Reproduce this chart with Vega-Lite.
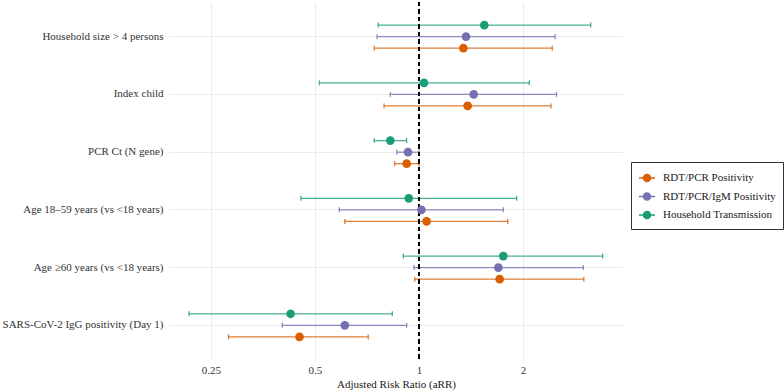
{
  "$schema": "https://vega.github.io/schema/vega-lite/v6.json",
  "width": 454,
  "height": 358,
  "autosize": "none",
  "padding": {"left": 169, "top": 2, "right": 161, "bottom": 31},
  "background": "white",
  "config": {
    "view": {"stroke": null},
    "font": "Liberation Serif",
    "axis": {"labelFont": "Liberation Serif", "titleFont": "Liberation Serif", "domain": false, "ticks": false, "gridColor": "#EBEBEB", "gridWidth": 1, "labelColor": "#333333", "titleColor": "#1a1a1a", "titleFontWeight": "normal"},
    "legend": {"labelFont": "Liberation Serif", "titleFont": "Liberation Serif"}
  },
  "data": {
    "values": [
      {"category": "Household size > 4 persons", "series": "Household Transmission", "est": 1.545, "lo": 0.762, "hi": 3.14},
      {"category": "Household size > 4 persons", "series": "RDT/PCR/IgM Positivity", "est": 1.368, "lo": 0.756, "hi": 2.476},
      {"category": "Household size > 4 persons", "series": "RDT/PCR Positivity", "est": 1.344, "lo": 0.742, "hi": 2.43},
      {"category": "Index child", "series": "Household Transmission", "est": 1.034, "lo": 0.515, "hi": 2.086},
      {"category": "Index child", "series": "RDT/PCR/IgM Positivity", "est": 1.44, "lo": 0.826, "hi": 2.5},
      {"category": "Index child", "series": "RDT/PCR Positivity", "est": 1.383, "lo": 0.792, "hi": 2.41},
      {"category": "PCR Ct (N gene)", "series": "Household Transmission", "est": 0.826, "lo": 0.742, "hi": 0.921},
      {"category": "PCR Ct (N gene)", "series": "RDT/PCR/IgM Positivity", "est": 0.929, "lo": 0.862, "hi": 1.0},
      {"category": "PCR Ct (N gene)", "series": "RDT/PCR Positivity", "est": 0.921, "lo": 0.85, "hi": 1.0},
      {"category": "Age 18–59 years (vs <18 years)", "series": "Household Transmission", "est": 0.934, "lo": 0.455, "hi": 1.917},
      {"category": "Age 18–59 years (vs <18 years)", "series": "RDT/PCR/IgM Positivity", "est": 1.016, "lo": 0.588, "hi": 1.754},
      {"category": "Age 18–59 years (vs <18 years)", "series": "RDT/PCR Positivity", "est": 1.052, "lo": 0.61, "hi": 1.806},
      {"category": "Age ≥60 years (vs <18 years)", "series": "Household Transmission", "est": 1.754, "lo": 0.901, "hi": 3.4},
      {"category": "Age ≥60 years (vs <18 years)", "series": "RDT/PCR/IgM Positivity", "est": 1.697, "lo": 0.967, "hi": 2.99},
      {"category": "Age ≥60 years (vs <18 years)", "series": "RDT/PCR Positivity", "est": 1.712, "lo": 0.972, "hi": 3.0},
      {"category": "SARS-CoV-2 IgG positivity (Day 1)", "series": "Household Transmission", "est": 0.425, "lo": 0.216, "hi": 0.837},
      {"category": "SARS-CoV-2 IgG positivity (Day 1)", "series": "RDT/PCR/IgM Positivity", "est": 0.61, "lo": 0.402, "hi": 0.921},
      {"category": "SARS-CoV-2 IgG positivity (Day 1)", "series": "RDT/PCR Positivity", "est": 0.451, "lo": 0.281, "hi": 0.713}
    ]
  },
  "encoding": {
    "y": {
      "field": "category", "type": "nominal",
      "sort": ["Household size > 4 persons", "Index child", "PCR Ct (N gene)", "Age 18–59 years (vs <18 years)", "Age ≥60 years (vs <18 years)", "SARS-CoV-2 IgG positivity (Day 1)"],
      "scale": {"paddingInner": 0, "paddingOuter": 0.1},
      "axis": {"title": null, "grid": true, "bandPosition": 0.5, "labelFontSize": 11, "labelPadding": 6, "labelLimit": 300}
    },
    "yOffset": {
      "field": "series", "type": "nominal",
      "sort": ["Household Transmission", "RDT/PCR/IgM Positivity", "RDT/PCR Positivity"],
      "scale": {"paddingInner": 0, "paddingOuter": 1.0}
    },
    "color": {
      "field": "series", "type": "nominal",
      "scale": {"domain": ["RDT/PCR Positivity", "RDT/PCR/IgM Positivity", "Household Transmission"], "range": ["#D95F02", "#7570B3", "#1B9E77"]},
      "legend": {
        "title": null, "orient": "none", "legendX": 462, "legendY": 160,
        "labelFontSize": 11, "labelColor": "#1a1a1a",
        "symbolType": "M-1,0H1M0.45,0A0.45,0.45,0,1,1,-0.45,0A0.45,0.45,0,1,1,0.45,0Z",
        "symbolSize": 256, "symbolStrokeWidth": 1.3, "symbolOpacity": 1,
        "rowPadding": 2.5, "labelOffset": 7, "padding": 7,
        "strokeColor": "#333333", "fillColor": "white",
        "encode": {"symbols": {"update": {"stroke": {"scale": "color", "field": "value"}}}}
      }
    }
  },
  "layer": [
    {
      "mark": {"type": "rule", "strokeWidth": 1.3, "opacity": 0.8},
      "encoding": {
        "x": {
          "field": "lo", "type": "quantitative",
          "scale": {"type": "log", "base": 2, "domain": [0.189, 3.894], "nice": false, "zero": false},
          "axis": {"title": "Adjusted Risk Ratio (aRR)", "values": [0.25, 0.5, 1, 2], "format": "~g", "labelFontSize": 11, "titleFontSize": 11, "labelPadding": 4, "titlePadding": 3, "grid": true}
        },
        "x2": {"field": "hi"}
      }
    },
    {
      "mark": {"type": "tick", "orient": "vertical", "size": 5, "thickness": 1.3, "opacity": 0.8},
      "encoding": {"x": {"field": "lo", "type": "quantitative"}}
    },
    {
      "mark": {"type": "tick", "orient": "vertical", "size": 5, "thickness": 1.3, "opacity": 0.8},
      "encoding": {"x": {"field": "hi", "type": "quantitative"}}
    },
    {
      "mark": {"type": "rule", "color": "black", "strokeDash": [4, 3.5], "strokeWidth": 1.5},
      "encoding": {"x": {"datum": 1}, "y": null, "yOffset": null, "color": null}
    },
    {
      "mark": {"type": "point", "filled": true, "size": 75, "opacity": 1},
      "encoding": {"x": {"field": "est", "type": "quantitative"}}
    }
  ]
}
